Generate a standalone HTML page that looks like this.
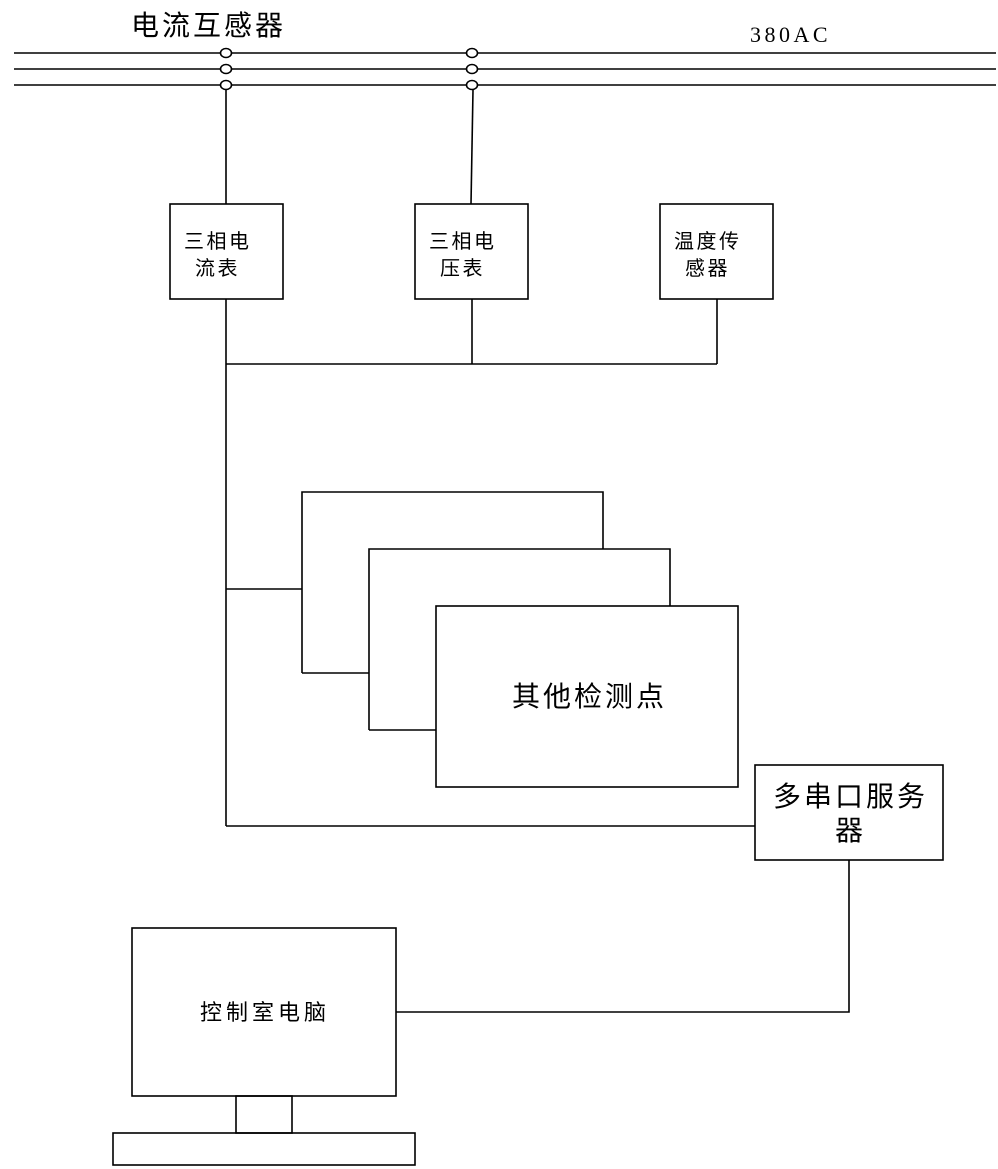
<!DOCTYPE html>
<html><head><meta charset="utf-8"><style>
html,body{margin:0;padding:0;background:#fff;}
svg{display:block;}
text{font-family:"Liberation Sans","Noto Sans CJK SC","WenQuanYi Zen Hei",sans-serif;fill:#000;}
</style></head><body>
<svg width="998" height="1169" viewBox="0 0 998 1169" xmlns="http://www.w3.org/2000/svg">
<g stroke="#000" stroke-width="1.6" fill="none">
<line x1="14" y1="53" x2="996" y2="53"/>
<line x1="14" y1="69" x2="996" y2="69"/>
<line x1="14" y1="85" x2="996" y2="85"/>
<line x1="226" y1="90" x2="226" y2="204"/>
<line x1="473" y1="90" x2="471" y2="204"/>
<rect x="170" y="204" width="113" height="95"/>
<rect x="415" y="204" width="113" height="95"/>
<rect x="660" y="204" width="113" height="95"/>
<line x1="226" y1="299" x2="226" y2="826"/>
<line x1="472" y1="299" x2="472" y2="364"/>
<line x1="717" y1="299" x2="717" y2="364"/>
<line x1="226" y1="364" x2="717" y2="364"/>
<line x1="226" y1="589" x2="302" y2="589"/>
<polyline points="302,673 302,492 603,492 603,549"/>
<line x1="302" y1="673" x2="369" y2="673"/>
<polyline points="369,730 369,549 670,549 670,606"/>
<line x1="369" y1="730" x2="436" y2="730"/>
<rect x="436" y="606" width="302" height="181"/>
<rect x="755" y="765" width="188" height="95"/>
<line x1="226" y1="826" x2="755" y2="826"/>
<polyline points="849,860 849,1012 396,1012"/>
<rect x="132" y="928" width="264" height="168"/>
<rect x="236" y="1096" width="56" height="37"/>
<rect x="113" y="1133" width="302" height="32"/>
</g>
<g stroke="#000" stroke-width="1.6" fill="#fff">
<ellipse cx="226" cy="53" rx="5.5" ry="4.5"/>
<ellipse cx="226" cy="69" rx="5.5" ry="4.5"/>
<ellipse cx="226" cy="85" rx="5.5" ry="4.5"/>
<ellipse cx="472" cy="53" rx="5.5" ry="4.5"/>
<ellipse cx="472" cy="69" rx="5.5" ry="4.5"/>
<ellipse cx="472" cy="85" rx="5.5" ry="4.5"/>
</g>
<text x="131" y="35" font-size="28" letter-spacing="3">电流互感器</text>
<text x="750" y="42" font-size="22" letter-spacing="3.5" style="font-family:'Liberation Serif',serif">380AC</text>
<g font-size="20" letter-spacing="2.5">
<text x="184" y="248">三相电</text><text x="195" y="275">流表</text>
<text x="429" y="248">三相电</text><text x="440" y="275">压表</text>
<text x="674" y="248">温度传</text><text x="685" y="275">感器</text>
</g>
<text x="200" y="1020" font-size="22" letter-spacing="4">控制室电脑</text>
<g font-size="28" letter-spacing="3">
<text x="512" y="706">其他检测点</text>
<text x="773" y="806">多串口服务</text>
<text x="835" y="840">器</text>
</g>
</svg>
</body></html>
